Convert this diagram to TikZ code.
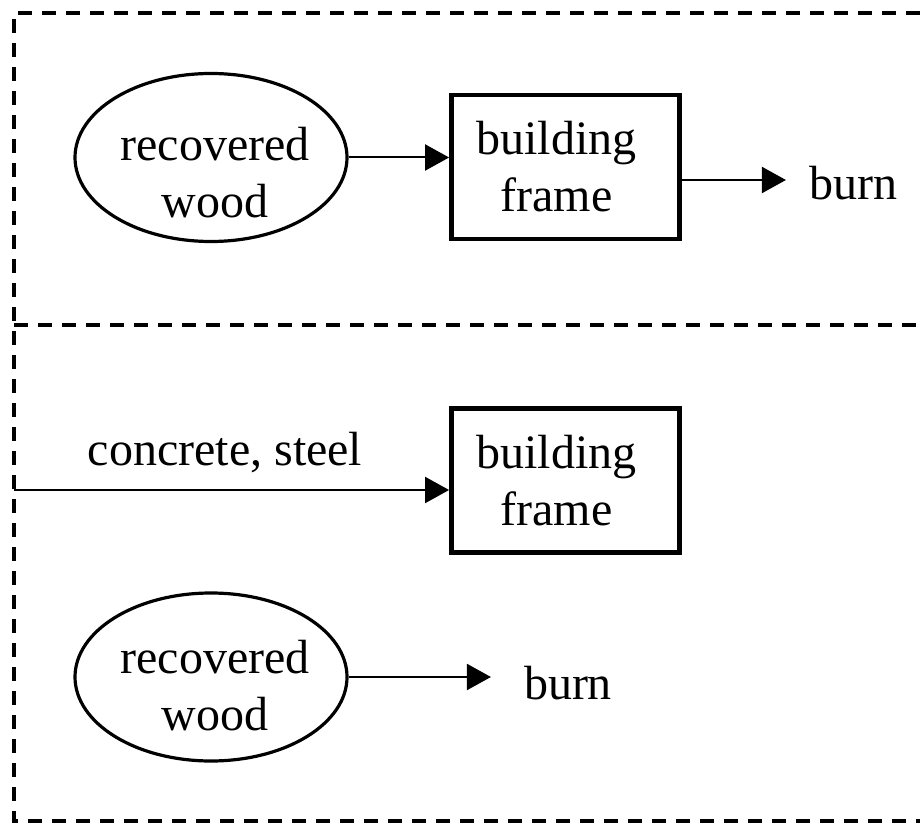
\documentclass[tikz,border=0pt]{standalone}
\usepackage{fontspec}
\setmainfont{Liberation Serif}
\usepackage{tikz}
\usetikzlibrary{arrows.meta,shapes}
\tikzstyle{wood}=[ellipse,draw,line width=1.6pt,minimum width=136pt,minimum height=84pt,inner sep=0pt]
\tikzstyle{frame}=[rectangle,draw,line width=2.4pt,minimum width=114pt,minimum height=72pt]
\tikzstyle{txt}=[align=center,inner sep=0pt]
\tikzstyle{zone} = [draw,line width=2pt,dash pattern=on 7pt off 5pt]

\begin{document}
\begin{tikzpicture}[x=0.5pt,y=-0.5pt,font=\fontsize{24}{28.5}\selectfont]
        \tikzset{edge/.style = {line width=1pt,-{Triangle[length=12pt,width=13pt]}}}
        \useasboundingbox (0,0) rectangle (920,823);
        \draw[zone] (920,13) -- (14,13) -- (14,821) -- (920,821);
        \draw[zone] (14,325) -- (920,325);
        % upper case
        \node[wood] (rec1) at (211,157.5) {};
        \node[txt] (rec1t) at ([xshift=2pt,yshift=-7.5pt]rec1) {recovered\\wood};
        \node[frame] (frm1) at (565.5,167) {};
        \node[txt] (frm1t) at ([xshift=-4.5pt,yshift=0pt]frm1) {building\\frame};
        \node (burn1) at (853,183) {burn};
        \draw[edge] (rec1.east) -- (rec1.east -| frm1.west);
        \draw[edge,shorten >=8pt] (frm1.east |- 0,180) -- (burn1.west |- 0,180);
        % lower case
        \coordinate (lft) at (14,490);
        \node[frame] (frm2) at (565.5,480.5) {};
        \node[txt] (frm2t) at ([xshift=-4.5pt,yshift=0pt]frm2) {building\\frame};
        \node (cs) at (225,453) {concrete, steel};
        \draw[edge] (lft) -- (lft -| frm2.west);
        \node[wood] (rec2) at (211,677) {};
        \node[txt] (rec2t) at ([xshift=2pt,yshift=-4.5pt]rec2) {recovered\\wood};
        \node (burn2) at (568,683) {burn};
        \draw[edge,shorten >=13pt] (rec2.east) -- (rec2.east -| burn2.west);
      \end{tikzpicture}
\end{document}
